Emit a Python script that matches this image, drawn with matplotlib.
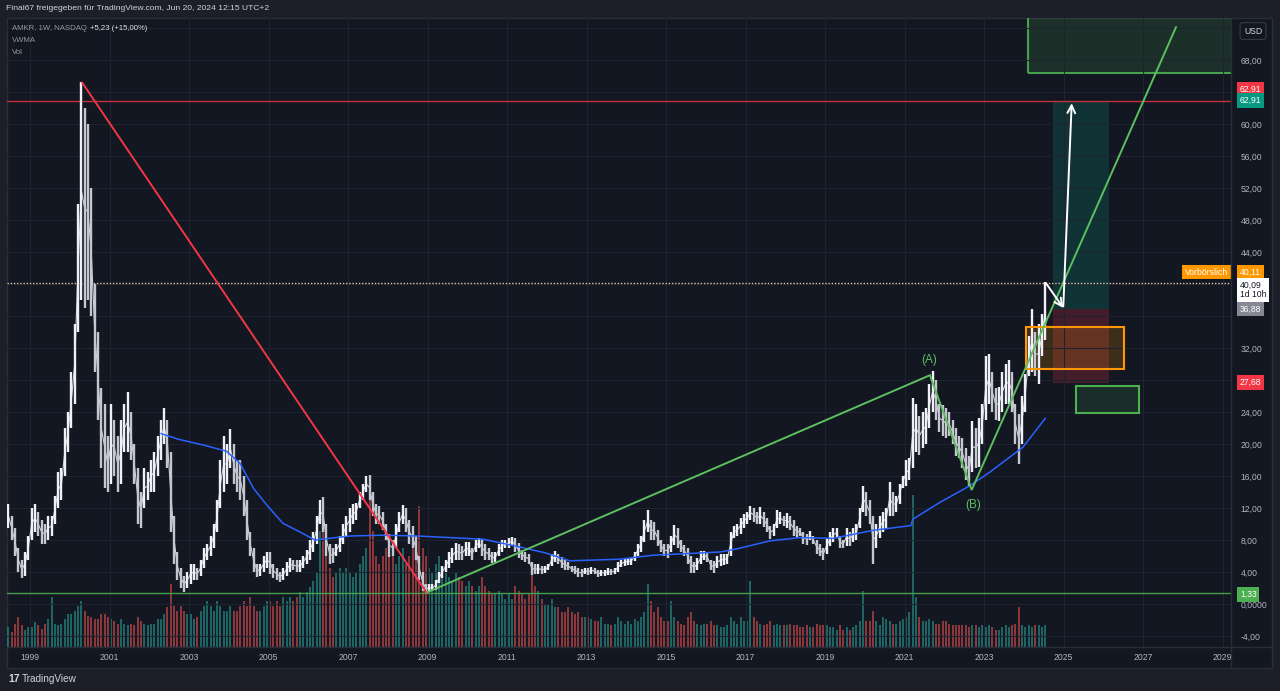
import matplotlib
matplotlib.use('Agg')
import matplotlib.pyplot as plt
import numpy as np
from matplotlib.patches import Rectangle
from matplotlib.lines import Line2D

plt.rcParams['font.family'] = ['Liberation Sans', 'DejaVu Sans']

# ---------------- data ----------------
first_year, first_month = 1998, 6          # first weekly-candle month shown
lows = [
    9.5, 8.0, 6.0, 4.0, 3.2, 3.5, 5.5,                                   # 1998 Jun-Dec
    8, 9, 8.5, 7.5, 7.5, 8, 8.5, 10, 12, 13, 16, 19,                     # 1999
    22, 25, 34, 38, 37, 38, 36, 29, 23, 17, 14.5, 14,                    # 2000
    15, 16, 14, 15, 19, 19, 18, 15, 10, 9.5, 12, 13,                     # 2001
    14, 14, 16, 18, 20, 17, 9, 5, 3, 2, 1.5, 2,                          # 2002
    2.5, 3, 3, 3.5, 4.5, 5.5, 6, 7, 9, 12, 14, 15,                       # 2003
    17, 15, 14, 13, 11, 8, 6, 4, 3.4, 3.5, 4, 4.5,                       # 2004
    3.8, 3.3, 3, 2.8, 3, 3.5, 4, 4.2, 4, 4, 4.5, 5,                      # 2005
    5.5, 6.5, 7.5, 10, 9, 6, 5, 5.1, 6, 6.5, 7.5, 8.5,                   # 2006
    9, 10, 10.5, 12, 13, 14, 13, 11, 10, 10, 9.25, 8,                    # 2007
    5.9, 6, 7, 9, 10, 9, 7.5, 7, 5.5, 3, 1.6, 1.33,                      # 2008
    1.5, 1.6, 1.7, 2.6, 3.2, 4, 4.5, 5.1, 5.5, 5.5, 5.5, 6,              # 2009
    6, 5.5, 6.5, 7, 6, 5.5, 5.5, 5.1, 5.2, 6, 6.5, 7,                    # 2010
    7, 7.3, 6.5, 5.8, 5.5, 5.3, 5, 3.6, 3.7, 3.8, 3.8, 3.9,              # 2011
    4.2, 4.8, 5.3, 5, 4.5, 4.3, 4.3, 4, 3.8, 3.4, 3.4, 3.7,              # 2012
    3.6, 3.8, 3.7, 3.4, 3.5, 3.5, 3.6, 3.6, 3.7, 4, 4.6, 4.8,            # 2013
    4.9, 4.9, 5.4, 6, 6.5, 7.8, 9, 8, 8, 7.2, 6.5, 6,                    # 2014
    5.8, 6.5, 7.4, 7, 6.5, 6, 5, 3.9, 3.9, 4.2, 5, 5.5,                  # 2015
    5.2, 4.2, 3.9, 4.5, 4.75, 4.9, 5, 6, 8.3, 8.5, 8.8, 9.5,             # 2016
    10, 10.5, 10.3, 10, 10, 9.6, 9, 8.1, 8.5, 9.5, 10, 9.8,              # 2017
    9.5, 9.2, 8.5, 8.4, 8.5, 7.5, 7.4, 8, 7.5, 6.3, 6, 5.5,              # 2018
    6.3, 7.3, 7.8, 8.3, 7, 7, 7.3, 7.2, 7.8, 8, 9.5, 11.5,               # 2019
    11, 10, 5, 7, 8.2, 9, 9.5, 11, 11, 11.5, 12.5, 14.5,                 # 2020
    14.8, 15.5, 17, 19, 18.6, 19.5, 20, 22, 24, 23, 21.5, 21,            # 2021
    20.7, 21, 20, 18.5, 18.2, 17, 15.5, 14.8, 16.5, 17, 17.1, 20,        # 2022
    23, 25, 24, 23, 22.9, 24, 25, 25, 24, 20, 17.5, 20,                  # 2023
    24, 28.5, 29, 28.5, 27.5, 31, 33,                                    # 2024
]
highs = [
    12.5, 11.0, 9.5, 7.0, 5.5, 6.5, 8.5,
    12, 12.5, 11.5, 10.5, 10, 11, 11, 13.5, 16.5, 17, 22, 24,
    29, 35, 50, 65.3, 62, 60, 52, 40, 34, 27, 25, 21,
    25, 23, 21, 23, 25, 26.5, 24, 20, 17, 14, 17, 16.5,
    18, 19, 21, 23, 24.5, 23, 19, 11, 6.5, 4.5, 3.5, 4,
    5, 5, 4.5, 5.5, 7, 7.5, 8.5, 10, 13, 18, 21, 20,
    21.9, 20, 18, 18, 16, 13, 9, 7, 5, 5, 6, 6.5,
    6.5, 5, 4.5, 4, 4.5, 5.2, 5.8, 5.5, 5.5, 5.5, 6, 6.8,
    8, 9, 11, 13, 13.4, 10, 7.5, 7, 7.5, 8.5, 10, 11,
    12, 12.5, 12.6, 14, 15, 16, 16.1, 14, 12.5, 12.2, 11.5, 10,
    8.8, 8, 10, 11.5, 12.4, 12, 10.5, 9.7, 8.5, 6, 4, 2.5,
    2.5, 2.5, 3, 4, 4.8, 5.5, 6.5, 7, 7.6, 7.5, 7.2, 7.8,
    7.8, 7, 8, 8.3, 8, 7.5, 7, 6.5, 6.5, 7.5, 8, 8,
    8.2, 8.4, 8.3, 7.6, 6.8, 6.5, 6.3, 5.3, 5, 5, 4.8, 4.8,
    5, 6.2, 6.6, 6.3, 5.9, 5.5, 5.2, 4.8, 4.7, 4.5, 4.4, 4.5,
    4.5, 4.6, 4.5, 4.2, 4.3, 4.3, 4.5, 4.4, 4.5, 5.2, 5.5, 5.7,
    5.7, 5.8, 6.5, 7.5, 8.5, 10.5, 11.7, 10.5, 10.3, 9.3, 8, 7.5,
    7.5, 8.5, 9.9, 9.5, 8, 7.4, 7, 6, 5.3, 5.8, 6.6, 6.6,
    6.5, 5.5, 5.4, 6, 6.2, 6.25, 6.3, 9, 9.8, 10, 10.8, 11.25,
    11.5, 12.3, 12, 11.5, 12.1, 11.5, 10.8, 9.8, 10, 11.7, 11.5, 11,
    11.4, 11, 10.5, 9.8, 9.5, 9, 8.8, 9.1, 8.5, 8, 7.5, 7,
    8.3, 9, 9.5, 9.5, 8.5, 8, 9.5, 9, 9.5, 10, 12, 14.8,
    14, 13, 11, 10, 11, 11.5, 12, 15.25, 14, 13.5, 15, 16,
    18, 18.2, 25.75, 25, 23.5, 24, 24.5, 27.5, 29.1, 28, 25, 24.9,
    24.5, 24, 23, 22, 21, 20.7, 19.5, 18.5, 22.9, 22, 23.3, 25,
    31, 31.3, 29, 27, 27.1, 29, 30, 30.5, 29, 25, 23.75, 26,
    28.75, 33.5, 36.9, 34, 35, 36.2, 40.3,
]
volumes = [  # weekly volume, million shares (typical per month)
    12, 9, 14, 18, 13, 10, 12,
    12, 15, 13, 11, 14, 17, 30, 14, 13, 14, 17, 20,
    20, 22, 25, 28, 22, 19, 18, 17, 17, 20, 20, 18,
    17, 16, 14, 17, 14, 13, 14, 13, 18, 16, 14, 13,
    14, 14, 17, 17, 20, 24, 38, 25, 22, 25, 22, 20,
    20, 17, 18, 22, 25, 28, 25, 22, 28, 25, 22, 22,
    25, 22, 22, 25, 28, 25, 30, 25, 22, 22, 25, 28,
    28, 25, 28, 25, 30, 28, 30, 28, 30, 33, 30, 33,
    36, 40, 45, 70, 90, 55, 48, 42, 45, 48, 45, 48,
    45, 42, 45, 50, 55, 60, 90, 70, 55, 50, 55, 60,
    65, 55, 50, 55, 60, 50, 55, 60, 65, 85, 60, 55,
    48, 45, 50, 55, 48, 45, 42, 40, 45, 42, 40, 37,
    40, 37, 34, 37, 42, 37, 34, 32, 32, 34, 32, 29,
    32, 29, 37, 34, 32, 29, 32, 50, 37, 34, 29, 26,
    26, 29, 24, 24, 21, 21, 24, 21, 20, 21, 18, 18,
    18, 17, 16, 16, 18, 14, 14, 13, 14, 18, 16, 14,
    16, 14, 17, 16, 18, 21, 38, 28, 21, 24, 18, 16,
    16, 28, 18, 16, 14, 13, 18, 21, 16, 14, 13, 14,
    14, 16, 13, 13, 12, 12, 13, 18, 16, 14, 18, 16,
    16, 40, 18, 16, 14, 13, 14, 16, 13, 14, 13, 13,
    13, 14, 13, 13, 12, 12, 13, 12, 12, 14, 13, 13,
    13, 12, 12, 10, 13, 10, 12, 10, 12, 13, 16, 34,
    16, 16, 22, 16, 13, 18, 17, 16, 14, 14, 16, 17,
    18, 21, 92, 30, 18, 16, 16, 17, 16, 14, 14, 16,
    16, 14, 13, 13, 13, 13, 13, 12, 13, 13, 12, 13,
    12, 13, 12, 10, 10, 12, 13, 12, 13, 14, 24, 13,
    12, 13, 12, 13, 13, 12, 13,
]
vwma_t = [2002.30, 2002.73, 2003.42, 2003.94, 2004.28, 2004.63, 2004.97, 2005.36, 2005.79,
          2006.17, 2007.05, 2007.88, 2008.74, 2009.57, 2010.40, 2011.25, 2011.96, 2012.58,
          2013.84, 2014.67, 2015.53, 2016.36, 2016.79, 2017.62, 2018.37, 2019.20, 2020.20,
          2021.16, 2021.21, 2021.89, 2022.65, 2023.15, 2023.98, 2024.54]
vwma_v = [21.3, 20.6, 19.8, 19.1, 17.6, 14.4, 12.3, 10.1, 9.0, 8.0, 8.5, 8.6, 8.5, 8.3, 8.1,
          7.2, 6.4, 5.4, 5.6, 6.1, 6.3, 6.5, 6.9, 7.9, 8.3, 8.2, 9.2, 9.8, 10.6, 12.7, 14.8,
          16.5, 19.6, 23.2]

year_ticks = list(range(1999, 2030, 2))
price_ticks = list(range(-4, 73, 4))
hidden_ticks = [28, 36, 40, 64, 72]

level_high = 62.91       # red horizontal
level_low = 1.33         # green horizontal
level_last = 40.11       # pre-market dotted
entry, target, stop = 36.88, 62.91, 27.68

red_trend = [(2000.31, 65.2), (2008.99, 1.33)]
green_path = [(2009.01, 1.5), (2021.64, 28.6), (2022.69, 14.25), (2027.83, 72.1)]
pos_t = (2024.728, 2026.152)
orange_box = (2024.057, 2026.52, 29.34, 34.66)
green_small = (2025.31, 2026.90, 23.9, 27.25)
green_big = (2024.115, 2030.5, 66.4, 80.0)
arrow1 = ((2024.56, 40.1), (2024.995, 37.0))
arrow2 = ((2024.995, 37.2), (2025.206, 62.6))
label_A = (2021.63, 30.5)
label_B = (2022.72, 12.4)

# ---------------- layout ----------------
W, H = 1280, 691
BG = '#131722'
FRAME = '#1c1f2a'
GRID = '#1f2330'
SEP = '#2a2e39'
TXT = '#b2b5be'


def fx(x):
    return x / W


def fy(y):
    return 1 - y / H


fig = plt.figure(figsize=(12.8, 6.91), dpi=100, facecolor=FRAME)
fig.patches.append(Rectangle((fx(7), fy(668)), fx(1272) - fx(7), fy(18) - fy(668),
                             transform=fig.transFigure, fc=BG, ec=SEP, lw=1, zorder=-5))

rect = [fx(7), fy(647), fx(1231) - fx(7), fy(18) - fy(647)]
xlim = (1999 + (7 - 30) / 39.75, 1999 + (1231 - 30) / 39.75)
ylim = ((604 - 647) / 8, (604 - 18) / 8)

ax_v = fig.add_axes(rect)
ax_v.set_zorder(0)
ax = fig.add_axes(rect)
ax.set_zorder(1)
ax.patch.set_visible(False)

n = len(lows)
t = np.array([first_year + (first_month - 1 + i + 0.5) / 12 for i in range(n)])
lo = np.array(lows)
hi = np.array(highs)
mid = (lo + hi) / 2
up = np.concatenate([[True], mid[1:] >= mid[:-1]])

# volume
ax_v.bar(t, volumes, width=1 / 12 * 0.6, color=np.where(up, '#26a69a', '#ef5350'),
         alpha=0.55, linewidth=0)
ax_v.set_xlim(*xlim)
ax_v.set_ylim(0, 380)
ax_v.axis('off')

# main price axes
ax.set_xlim(*xlim)
ax.set_ylim(*ylim)
for s in ax.spines.values():
    s.set_visible(False)
ax.yaxis.tick_right()
ax.set_yticks(price_ticks)
ylabels = []
for p in price_ticks:
    if p in hidden_ticks:
        ylabels.append('')
    elif p == 0:
        ylabels.append('0,0000')
    else:
        ylabels.append(f'{p:.2f}'.replace('.', ','))
ax.set_yticklabels(ylabels)
ax.set_xticks(year_ticks)
ax.set_xticklabels([str(y) for y in year_ticks])
ax.tick_params(axis='y', length=0, pad=7, labelsize=6.2, labelcolor=TXT)
ax.tick_params(axis='x', length=0, pad=4, labelsize=6.2, labelcolor=TXT)
ax.grid(True, color=GRID, lw=0.8, zorder=0)

# boxes
gx0, gx1, gy0, gy1 = green_big
ax.add_patch(Rectangle((gx0, gy0), gx1 - gx0, gy1 - gy0, fc='#4caf50', alpha=0.17, ec='none', zorder=1))
ax.add_patch(Rectangle((gx0, gy0), gx1 - gx0, gy1 - gy0, fc='none', ec='#4caf50', lw=1.5, alpha=0.9, zorder=1))
ax.add_patch(Rectangle((pos_t[0], entry), pos_t[1] - pos_t[0], target - entry, fc='#089981', alpha=0.22, ec='none', zorder=1))
ax.add_patch(Rectangle((pos_t[0], stop), pos_t[1] - pos_t[0], entry - stop, fc='#f23645', alpha=0.22, ec='none', zorder=1))
ox0, ox1, oy0, oy1 = orange_box
ax.add_patch(Rectangle((ox0, oy0), ox1 - ox0, oy1 - oy0, fc='#ff9800', alpha=0.18, ec='none', zorder=1))
ax.add_patch(Rectangle((ox0, oy0), ox1 - ox0, oy1 - oy0, fc='none', ec='#ff9800', lw=1.5, zorder=4))
sx0, sx1, sy0, sy1 = green_small
ax.add_patch(Rectangle((sx0, sy0), sx1 - sx0, sy1 - sy0, fc='#4caf50', alpha=0.15, ec='none', zorder=1))
ax.add_patch(Rectangle((sx0, sy0), sx1 - sx0, sy1 - sy0, fc='none', ec='#4caf50', lw=1.5, zorder=4))

# horizontal levels
ax.axhline(level_high, color='#c0303e', lw=1.0, zorder=2)
ax.axhline(level_low, color='#43a047', lw=1.0, zorder=2)
ax.axhline(level_last, color='#dcc7a6', lw=1.0, ls=(0, (1, 1.3)), zorder=2)

# price candles (monthly envelope of weekly candles) + connecting path
ax.plot(t, mid, color='#d1d4dc', lw=0.8, zorder=3)
ax.vlines(t, lo, hi, colors=np.where(up, '#eef0f5', '#c4c7cf'), lw=1.7, zorder=3)

# VWMA
ax.plot(vwma_t, vwma_v, color='#2962ff', lw=1.1, zorder=3)

# trend lines
ax.plot(*zip(*red_trend), color='#f23645', lw=1.4, zorder=4, solid_capstyle='round')
ax.plot(*zip(*green_path), color='#5cbf60', lw=1.4, zorder=4, solid_joinstyle='miter')
ax.text(*label_A, '(A)', color='#5cbf60', fontsize=8.5, ha='center', va='center', zorder=5)
ax.text(*label_B, '(B)', color='#5cbf60', fontsize=8.5, ha='center', va='center', zorder=5)

# arrows
for a, b in (arrow1, arrow2):
    ax.annotate('', xy=b, xytext=a,
                arrowprops=dict(arrowstyle='->', color='white', lw=1.4, mutation_scale=14,
                                shrinkA=0, shrinkB=0), zorder=5)

# price tags on scale
ytr = ax.get_yaxis_transform()


def tag(price, text, fc, tc='white', dy=0.0, dx=6.5, ha='left'):
    ax.annotate(text, xy=(1.0, price), xycoords=ytr, xytext=(dx, dy), textcoords='offset points',
                ha=ha, va='center', fontsize=6.2, color=tc, linespacing=1.15,
                bbox=dict(boxstyle='square,pad=0.32', fc=fc, ec='none'), annotation_clip=False, zorder=6)


tag(level_high, '62,91', '#f23645', dy=8.4)
tag(target, '62,91', '#089981')
tag(level_last, '40,11', '#ff9800', dy=7.9)
tag(level_last, 'Vorbörslich', '#ff9800', dy=7.9, dx=-2, ha='right')
tag(40.09, '40,09\n1d 10h', '#ffffff', tc='#131722', dy=-4.8)
tag(entry, '36,88', '#868993')
tag(stop, '27,68', '#f23645')
tag(level_low, '1,33', '#4caf50', dy=-0.8)

# separators
fig.add_artist(Line2D([fx(1231), fx(1231)], [fy(18), fy(668)], color=SEP, lw=1))
fig.add_artist(Line2D([fx(7), fx(1272)], [fy(647), fy(647)], color=SEP, lw=1))

# USD box
fig.text(fx(1253), fy(31), 'USD', color='#d1d4dc', fontsize=6.2, ha='center', va='center',
         bbox=dict(boxstyle='round,pad=0.45,rounding_size=0.3', fc=BG, ec='#363a45', lw=0.8))

# header / legend / footer
fig.text(fx(6), fy(9), 'Final67 freigegeben für TradingView.com, Jun 20, 2024 12:15 UTC+2',
         color='#d1d4dc', fontsize=6.1, ha='left', va='center')
fig.text(fx(12), fy(29), 'AMKR, 1W, NASDAQ', color='#9598a1', fontsize=5.6, ha='left', va='center')
fig.text(fx(90), fy(29), '+5,23 (+15,00%)', color='#e0e3eb', fontsize=5.6, ha='left', va='center')
fig.text(fx(12), fy(41), 'VWMA', color='#9598a1', fontsize=5.6, ha='left', va='center')
fig.text(fx(12), fy(52), 'Vol', color='#9598a1', fontsize=5.6, ha='left', va='center')
fig.text(fx(8), fy(679), '17', color='#d1d4dc', fontsize=7.5, fontweight='bold', ha='left', va='center')
fig.text(fx(22), fy(679), 'TradingView', color='#d1d4dc', fontsize=7.2, ha='left', va='center')

fig.savefig('out.png', dpi=100, facecolor=FRAME)
